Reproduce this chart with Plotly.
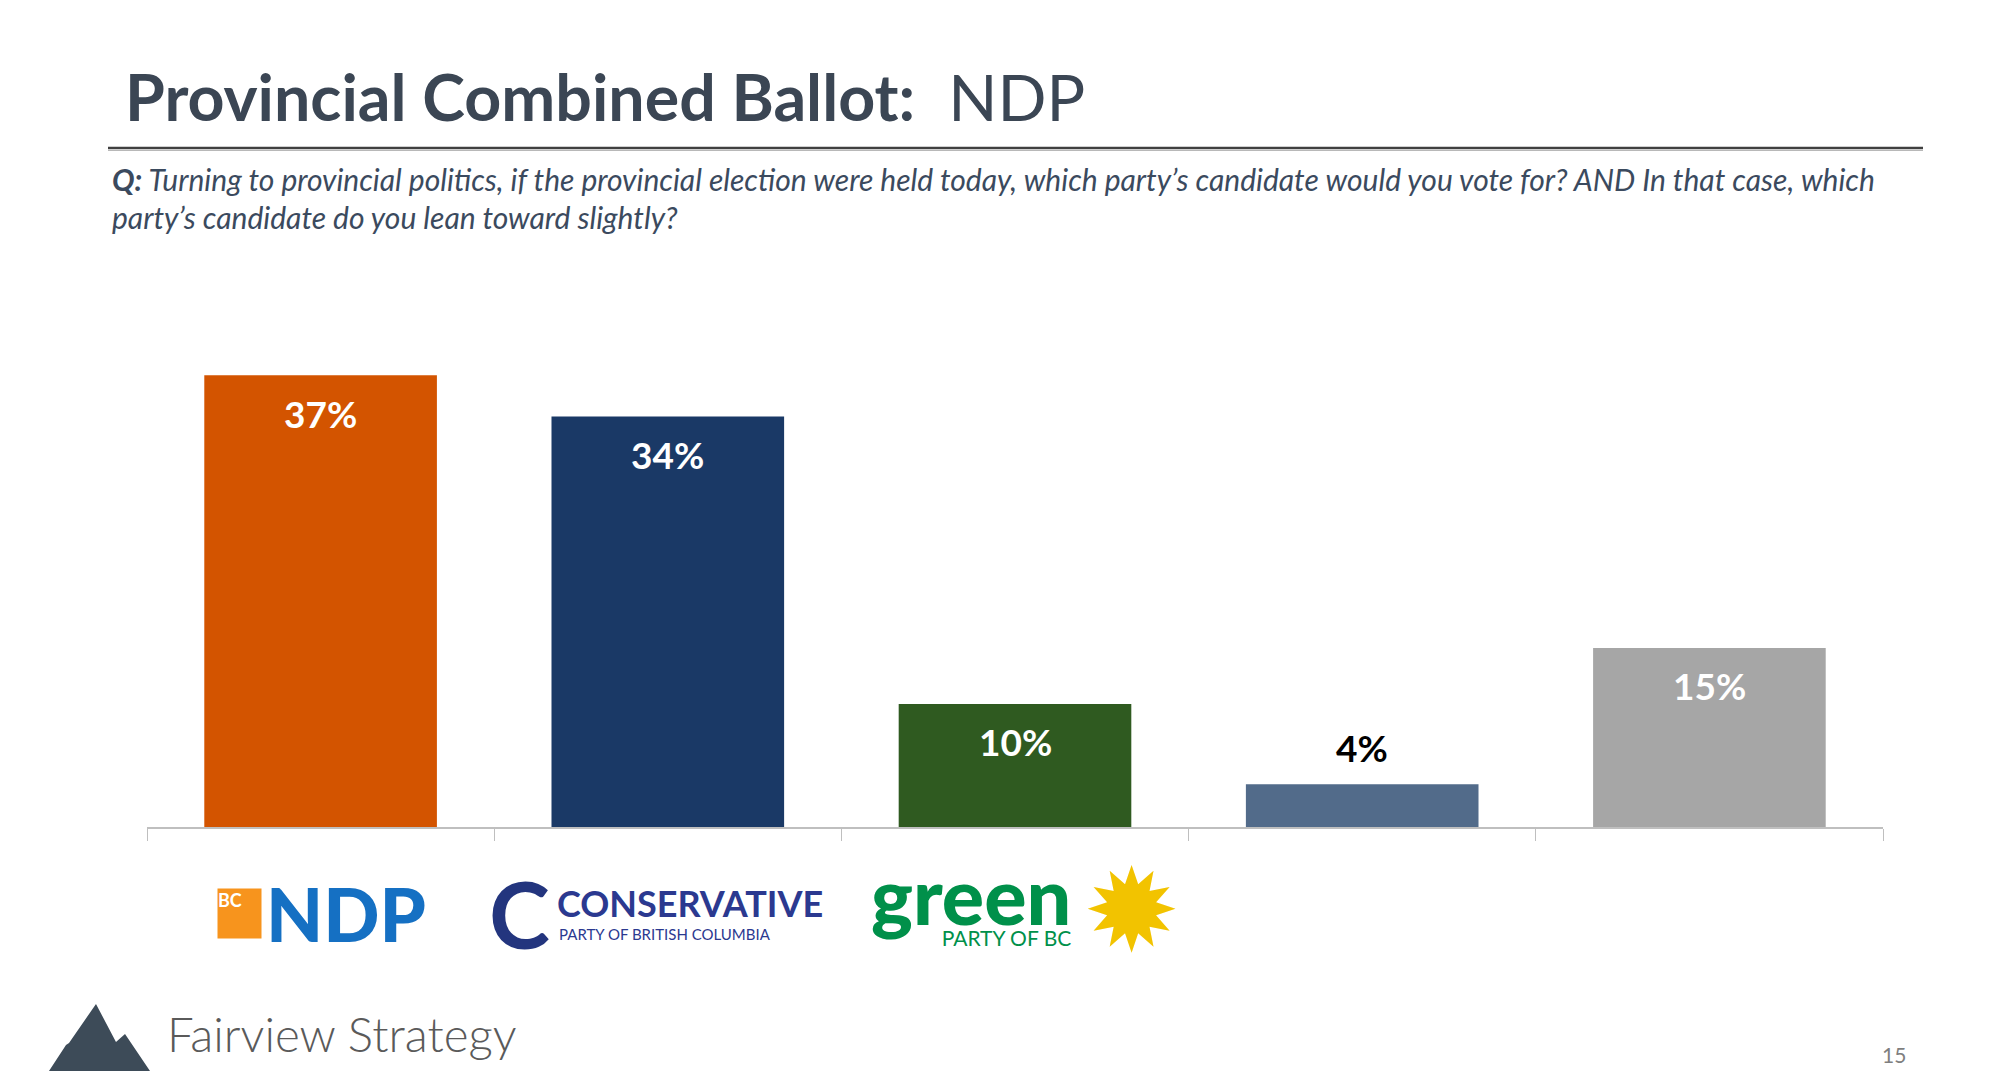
import plotly.graph_objects as go

# ---------------- data ----------------
categories = ["BC NDP", "Conservative", "Green", "Other", "Undecided"]
values = [37.1, 33.7, 10.1, 3.5, 14.7]
labels = ["37%", "34%", "10%", "4%", "15%"]
bar_colors = ["#d35400", "#1a3966", "#2f5a20", "#526b8a", "#a6a6a6"]

title_bold = "Provincial Combined Ballot:"
title_rest = "NDP"
question_1 = "Turning to provincial politics, if the provincial election were held today, which party\u2019s candidate would you vote for? AND In that case, which"
question_2 = "party\u2019s candidate do you lean toward slightly?"
page_number = "15"
brand = "Fairview Strategy"

# ---------------- geometry helpers (page pixels -> paper) ----------------
OFF = 8                      # default body margin of the html page
W, H = 1992, 1076
ML, MR, MT, MB = 139, 117, 292, 257
PW, PH = W - ML - MR, H - MT - MB
BASE = OFF + H - MB          # page y of the axis line


def px(xp):
    return (xp - OFF - ML) / PW


def py(yp):
    return (BASE - yp) / PH


FONT = "Lato, 'Open Sans', sans-serif"
SLATE = "#3b4654"

fig = go.Figure()
fig.add_trace(go.Bar(
    x=categories, y=values, marker=dict(color=bar_colors, line=dict(width=0)),
    hoverinfo="skip", showlegend=False,
))

ann = []
# bar value labels
for c, v, t in zip(categories, values, labels):
    inside = v > 6
    ann.append(dict(
        x=c, y=v, xref="x", yref="y", text=f"<b>{t}</b>", showarrow=False,
        yanchor="middle", yshift=-38 if inside else 37,
        font=dict(family=FONT, size=37, color="white" if inside else "#000000"),
    ))

# title
ann.append(dict(
    x=px(123), y=py(96), xref="paper", yref="paper", xanchor="left", yanchor="middle",
    text=f"<b>{title_bold}</b>  {title_rest}", showarrow=False,
    font=dict(family=FONT, size=64.5, color=SLATE),
))
# question
ann.append(dict(
    x=px(110), y=py(179), xref="paper", yref="paper", xanchor="left", yanchor="middle",
    text=f"<b><i>Q:</i></b><i> {question_1}</i>", showarrow=False,
    font=dict(family=FONT, size=30, color="#3b4a5e"),
))
ann.append(dict(
    x=px(110), y=py(217), xref="paper", yref="paper", xanchor="left", yanchor="middle",
    text=f"<i>{question_2}</i>", showarrow=False,
    font=dict(family=FONT, size=30, color="#3b4a5e"),
))

# ---- party logos (approximated with styled text) ----
# BC NDP
ann.append(dict(
    x=categories[0], y=py(913), xref="x", yref="paper", xshift=-81, yanchor="middle",
    text="<b>BC</b>", showarrow=False, width=43, height=49, align="left", valign="top",
    bgcolor="#f7941d", borderpad=0,
    font=dict(family=FONT, size=18, color="white"),
))
ann.append(dict(
    x=categories[0], y=py(913), xref="x", yref="paper", xshift=25, yanchor="middle",
    text="NDP", showarrow=False,
    font=dict(family=FONT, size=74, color="#1570c3", weight=900),
))
# Conservative
ann.append(dict(
    x=categories[1], y=py(913), xref="x", yref="paper", xshift=-148, yanchor="middle",
    text="<b>C</b>", showarrow=False,
    font=dict(family=FONT, size=92, color="#23357e"),
))
ann.append(dict(
    x=categories[1], y=py(903), xref="x", yref="paper", xshift=-113, xanchor="left", yanchor="middle",
    text="<b>CONSERVATIVE</b>", showarrow=False,
    font=dict(family=FONT, size=36, color="#2b3990"),
))
ann.append(dict(
    x=categories[1], y=py(934), xref="x", yref="paper", xshift=-111, xanchor="left", yanchor="middle",
    text="PARTY OF BRITISH COLUMBIA", showarrow=False,
    font=dict(family=FONT, size=15, color="#2b3990"),
))
# Green (word mark + sub line as one text block)
ann.append(dict(
    x=categories[2], y=py(952), xref="x", yref="paper", xshift=58, xanchor="right", yanchor="bottom",
    text="<span style='font-size:79px;font-weight:900'>green</span><br>"
         "<span style='font-size:21px'>PARTY OF BC</span>",
    align="right", showarrow=False,
    font=dict(family=FONT, size=16, color="#00904a"),
))
ann.append(dict(
    x=categories[2], y=py(910), xref="x", yref="paper", xshift=116, yanchor="middle",
    text="\u2739", showarrow=False,
    font=dict(family="DejaVu Sans", size=116, color="#f2c300"),
))

# footer
ann.append(dict(
    x=px(165), y=py(1033), xref="paper", yref="paper", xanchor="left", yanchor="middle",
    text=brand, showarrow=False,
    font=dict(family=FONT, size=47.5, color="#5a5a5a", weight=300),
))
ann.append(dict(
    x=px(1894), y=py(1054), xref="paper", yref="paper", xanchor="center", yanchor="middle",
    text=page_number, showarrow=False,
    font=dict(family=FONT, size=21, color="#7f7f7f"),
))

# mountain logo path
mountain_pts = [(49, 1071), (66, 1045), (69, 1043), (96, 1004), (116, 1042), (125, 1034), (150, 1071)]
path = "M " + " L ".join(f"{px(a):.5f},{py(b):.5f}" for a, b in mountain_pts) + " Z"

shapes = [
    dict(type="line", xref="paper", yref="paper", x0=px(108), x1=px(1923), y0=py(148), y1=py(148),
         line=dict(color="#404040", width=2.5)),
    dict(type="line", xref="paper", yref="paper", x0=px(108), x1=px(1923), y0=py(150.5), y1=py(150.5),
         line=dict(color="#b8b8b8", width=1)),
    dict(type="path", xref="paper", yref="paper", path=path, fillcolor="#3d4b58", line=dict(width=0)),
]

fig.update_layout(
    width=W, height=H,
    margin=dict(l=ML, r=MR, t=MT, b=MB, autoexpand=False),
    paper_bgcolor="white", plot_bgcolor="white",
    bargap=0.33,
    annotations=ann, shapes=shapes,
    font=dict(family=FONT),
    xaxis=dict(
        showline=True, linecolor="#bfbfbf", linewidth=2,
        ticks="outside", tickson="boundaries", ticklen=12, tickcolor="#bfbfbf", tickwidth=1,
        showticklabels=False, showgrid=False, zeroline=False, fixedrange=True,
    ),
    yaxis=dict(range=[0, 43.27], visible=False, showgrid=False, zeroline=False, fixedrange=True),
)

fig.write_html("out.html")
